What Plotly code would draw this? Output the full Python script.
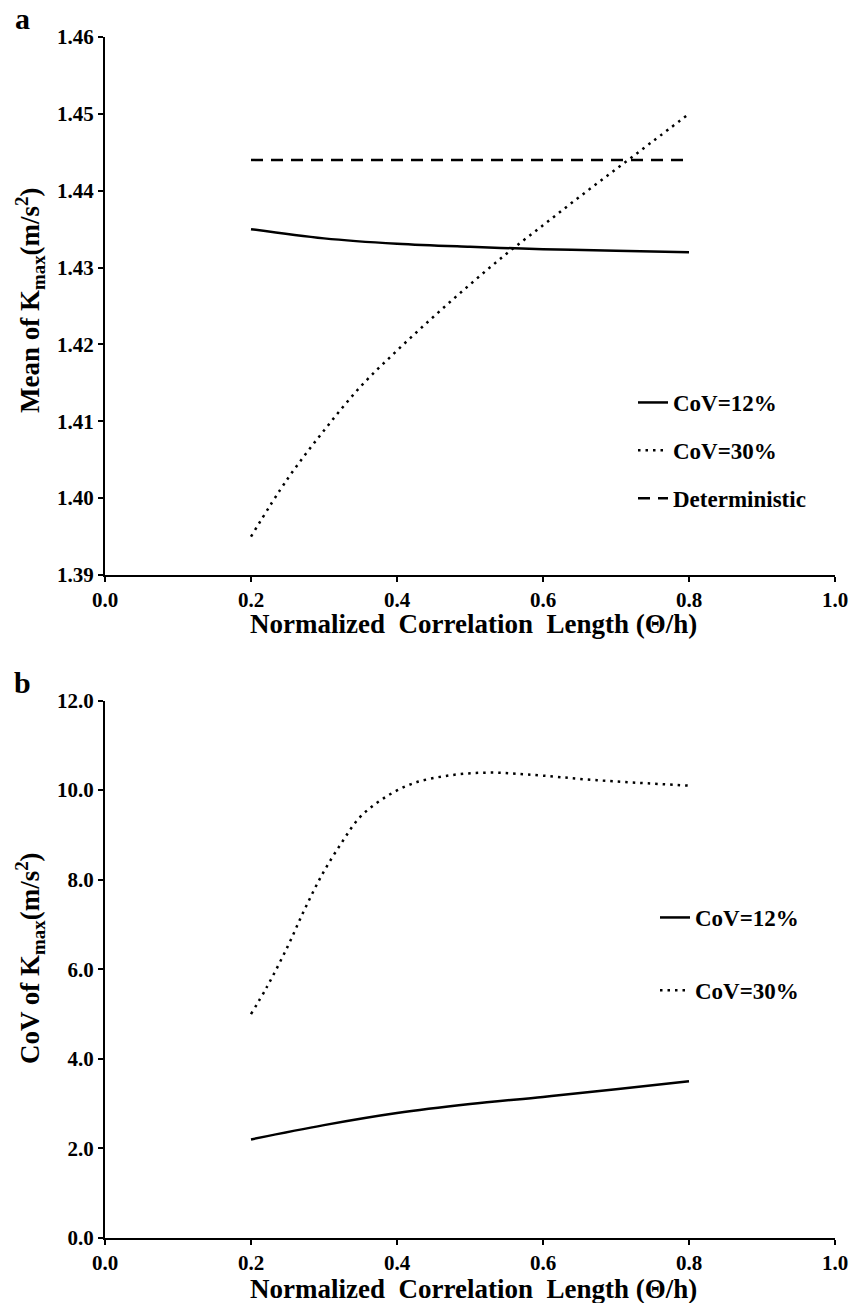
import plotly.graph_objects as go

# ---------------- data ----------------
# Panel a: Mean of K_max
x_a_cov12 = [0.2, 0.3, 0.4, 0.5, 0.6, 0.7, 0.8]
mean_cov12 = [1.4350, 1.4338, 1.4331, 1.4327, 1.4324, 1.4322, 1.4320]

x_a_cov30 = [0.2, 0.25, 0.3, 0.35, 0.4, 0.45, 0.5, 0.55, 0.6, 0.65, 0.7, 0.75, 0.8]
mean_cov30 = [1.3950, 1.4025, 1.4088, 1.4145, 1.4192, 1.4236, 1.4278, 1.4318,
              1.4355, 1.4392, 1.4428, 1.4464, 1.4500]

x_det = [0.2, 0.8]
mean_det = [1.444, 1.444]

# Panel b: CoV of K_max
x_b_cov12 = [0.2, 0.3, 0.4, 0.5, 0.6, 0.7, 0.8]
cov_cov12 = [2.20, 2.52, 2.79, 2.99, 3.15, 3.32, 3.50]

x_b_cov30 = [0.2, 0.222, 0.25, 0.273, 0.297, 0.324, 0.349, 0.381, 0.422, 0.473,
             0.525, 0.578, 0.674, 0.8]
cov_cov30 = [5.0, 5.61, 6.50, 7.32, 8.10, 8.82, 9.39, 9.81, 10.15, 10.33,
             10.39, 10.35, 10.22, 10.10]

x_ticks = [0.0, 0.2, 0.4, 0.6, 0.8, 1.0]
x_title = "Normalized  Correlation  Length (\u0398/h)"

FONT = "Liberation Serif"
W, H = 862, 1303
ML, MR, MT, MB = 105, 27, 37, 65

def py(px):
    """pixel row -> paper y"""
    return (H - MB - px) / (H - MT - MB)

def pxx(px):
    return (px - ML) / (W - ML - MR)

fig = go.Figure()

solid = dict(color="black", width=2.5)
dotted = dict(color="black", width=2.5, dash="2.5px,5px")
dashed = dict(color="black", width=2.5, dash="12px,8px")

fig.add_trace(go.Scatter(x=x_a_cov12, y=mean_cov12, mode="lines", name="CoV=12%",
                         line=dict(shape="spline", **solid), xaxis="x", yaxis="y",
                         legend="legend", legendgroup="a1"))
fig.add_trace(go.Scatter(x=x_a_cov30, y=mean_cov30, mode="lines", name="CoV=30%",
                         line=dict(shape="spline", **dotted), xaxis="x", yaxis="y",
                         legend="legend", legendgroup="a2"))
fig.add_trace(go.Scatter(x=x_det, y=mean_det, mode="lines", name="Deterministic",
                         line=dashed, xaxis="x", yaxis="y",
                         legend="legend", legendgroup="a3"))

fig.add_trace(go.Scatter(x=x_b_cov12, y=cov_cov12, mode="lines", name="CoV=12%",
                         line=dict(shape="spline", **solid), xaxis="x2", yaxis="y2",
                         legend="legend2", legendgroup="b1"))
fig.add_trace(go.Scatter(x=x_b_cov30, y=cov_cov30, mode="lines", name="CoV=30%",
                         line=dict(shape="spline", **dotted), xaxis="x2", yaxis="y2",
                         legend="legend2", legendgroup="b2"))

tickfont = dict(family=FONT, size=21, color="black", weight="bold")
axis_common = dict(showline=True, linecolor="black", linewidth=2, ticks="outside",
                   ticklen=5, tickwidth=2, tickcolor="black", showgrid=False,
                   zeroline=False, tickfont=tickfont, mirror=False)

legfont = dict(family=FONT, size=23, color="black", weight="bold")

fig.update_layout(
    width=W, height=H,
    margin=dict(l=ML, r=MR, t=MT, b=MB),
    plot_bgcolor="white", paper_bgcolor="white",
    font=dict(family=FONT, size=18, color="black"),
    xaxis=dict(domain=[0, 1], range=[0, 1], tickvals=x_ticks, tickformat=".1f",
               anchor="y", **axis_common),
    yaxis=dict(domain=[py(575), 1.0], range=[1.39, 1.46], dtick=0.01, tick0=1.39,
               tickformat=".2f", anchor="x", **axis_common),
    xaxis2=dict(domain=[0, 1], range=[0, 1], tickvals=x_ticks, tickformat=".1f",
                anchor="y2", **axis_common),
    yaxis2=dict(domain=[0, py(700.5)], range=[0, 12], dtick=2, tick0=0,
                tickformat=".1f", anchor="x2", **axis_common),
    legend=dict(x=pxx(633), y=py(381), xanchor="left", yanchor="top",
                bgcolor="rgba(0,0,0,0)", tracegroupgap=15, traceorder="grouped",
                font=legfont),
    legend2=dict(x=pxx(655), y=py(896), xanchor="left", yanchor="top",
                 bgcolor="rgba(0,0,0,0)", tracegroupgap=40, traceorder="grouped",
                 font=legfont),
    showlegend=True,
)

title_font = dict(family=FONT, size=27, color="black", weight="bold")
ann = []
# x-axis titles
ann.append(dict(text=x_title, x=pxx(473), y=py(624), xref="paper", yref="paper",
                showarrow=False, font=title_font, xanchor="center", yanchor="middle"))
ann.append(dict(text=x_title, x=pxx(473), y=py(1289), xref="paper", yref="paper",
                showarrow=False, font=title_font, xanchor="center", yanchor="middle"))
# y-axis titles
ann.append(dict(text="Mean of K<sub>max</sub>(m/s<sup>2</sup>)", x=pxx(30), y=py(300),
                xref="paper", yref="paper", showarrow=False, textangle=-90,
                font=title_font, xanchor="center", yanchor="middle"))
ann.append(dict(text="CoV of K<sub>max</sub>(m/s<sup>2</sup>)", x=pxx(30), y=py(958),
                xref="paper", yref="paper", showarrow=False, textangle=-90,
                font=title_font, xanchor="center", yanchor="middle"))
# panel labels
panel_font = dict(family=FONT, size=30, color="black", weight="bold")
ann.append(dict(text="a", x=pxx(22), y=py(18), xref="paper", yref="paper",
                showarrow=False, font=panel_font, xanchor="center", yanchor="middle"))
ann.append(dict(text="b", x=pxx(22), y=py(682), xref="paper", yref="paper",
                showarrow=False, font=panel_font, xanchor="center", yanchor="middle"))
fig.update_layout(annotations=ann)

fig.write_html("out.html")
